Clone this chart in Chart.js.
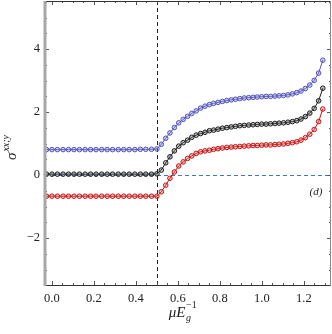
<!DOCTYPE html>
<html>
<head>
<meta charset="utf-8">
<script src="https://cdn.jsdelivr.net/npm/chart.js@4.4.1/dist/chart.umd.min.js"></script>
<style>
html,body{margin:0;padding:0;background:#fff;}
canvas{display:block;}
</style>
</head>
<body>
<canvas id="c" width="332" height="334"></canvas>
<script>
// x values (mu / E_g)
const muValues = [
 -0.026, 0.000, 0.026, 0.053, 0.079, 0.105, 0.131, 0.158, 0.184, 0.210,
  0.237, 0.263, 0.289, 0.316, 0.342, 0.368, 0.395, 0.421, 0.447, 0.474,
  0.500,
  0.521, 0.542, 0.562, 0.583, 0.604, 0.625, 0.646, 0.666, 0.687, 0.708,
  0.729, 0.750, 0.770, 0.791, 0.812, 0.833, 0.854, 0.874, 0.895, 0.916,
  0.937, 0.958, 0.978, 0.999, 1.020, 1.041, 1.062, 1.082, 1.103, 1.124,
  1.145, 1.166, 1.186, 1.207, 1.228, 1.249, 1.270, 1.290
];
const blueValues = [
  0.81, 0.81, 0.81, 0.81, 0.81, 0.81, 0.81, 0.81, 0.81, 0.81,
  0.81, 0.81, 0.81, 0.81, 0.81, 0.81, 0.81, 0.82, 0.82, 0.82,
  0.83,
  0.98, 1.17, 1.34, 1.51, 1.66, 1.77, 1.87, 1.96, 2.04, 2.13,
  2.19, 2.24, 2.28, 2.31, 2.34, 2.37, 2.39, 2.41, 2.43, 2.45,
  2.46, 2.47, 2.48, 2.49, 2.50, 2.50, 2.51, 2.52, 2.53, 2.55,
  2.58, 2.62, 2.67, 2.75, 2.86, 3.01, 3.24, 3.65
];
const blackValues = [
  0.03, 0.03, 0.03, 0.03, 0.03, 0.03, 0.03, 0.03, 0.03, 0.03,
  0.03, 0.03, 0.03, 0.03, 0.03, 0.03, 0.03, 0.03, 0.03, 0.03,
  0.04,
  0.16, 0.39, 0.58, 0.77, 0.92, 1.03, 1.11, 1.20, 1.27, 1.32,
  1.36, 1.41, 1.43, 1.46, 1.49, 1.51, 1.53, 1.55, 1.57, 1.58,
  1.59, 1.60, 1.61, 1.62, 1.62, 1.63, 1.64, 1.65, 1.66, 1.68,
  1.70, 1.73, 1.78, 1.86, 1.97, 2.12, 2.36, 2.76
];
const redValues = [
 -0.67, -0.67, -0.67, -0.67, -0.67, -0.67, -0.67, -0.67, -0.67, -0.67,
 -0.67, -0.67, -0.67, -0.67, -0.67, -0.67, -0.67, -0.67, -0.67, -0.67,
 -0.67,
 -0.53, -0.32, -0.10, 0.10, 0.29, 0.42, 0.53, 0.61, 0.69, 0.74,
  0.77, 0.79, 0.82, 0.84, 0.86, 0.88, 0.89, 0.90, 0.91, 0.92,
  0.93, 0.94, 0.94, 0.95, 0.96, 0.96, 0.97, 0.98, 0.99, 1.01,
  1.03, 1.06, 1.11, 1.19, 1.30, 1.45, 1.70, 2.10
];
const xTickValues = [0, 0.2, 0.4, 0.6, 0.8, 1.0, 1.2];
const yTickValues = [-2, 0, 2, 4];
const gapPosition = 0.5;

function pts(ys){ return muValues.map((x,i)=>({x:x, y:ys[i]})); }

const serif = '"Liberation Serif","DejaVu Serif",serif';

class TightLinear extends Chart.LinearScale {
  _calculatePadding(){
    this.paddingTop = 0; this.paddingBottom = 0;
    this.paddingLeft = 0; this.paddingRight = 0;
  }
}
TightLinear.id = 'tightLinear';
TightLinear.defaults = Chart.LinearScale.defaults;
Chart.register(TightLinear);

function mkSet(ys, line, fill){
  return {
    data: pts(ys), showLine:true, borderColor:line, borderWidth:1,
    pointRadius:2.3, pointBorderWidth:1, pointBorderColor:line,
    pointBackgroundColor:fill, tension:0, clip:false
  };
}

const decor = {
  id:'decor',
  beforeDatasetsDraw(chart){
    const c = chart.ctx, a = chart.chartArea;
    const xs = chart.scales.x, ys = chart.scales.y;
    c.save();
    c.strokeStyle = '#4d74c4'; c.lineWidth = 1; c.setLineDash([4,3]);
    const y0 = Math.round(ys.getPixelForValue(0)) + 0.5;
    c.beginPath(); c.moveTo(a.left, y0); c.lineTo(a.right, y0); c.stroke();
    c.strokeStyle = '#222'; c.setLineDash([4,3]);
    const xg = Math.round(xs.getPixelForValue(gapPosition)) + 0.5;
    c.beginPath(); c.moveTo(xg, a.top); c.lineTo(xg, a.bottom); c.stroke();
    c.restore();
  },
  afterDraw(chart){
    const c = chart.ctx, a = chart.chartArea;
    const xs = chart.scales.x, ys = chart.scales.y;
    c.save();
    c.setLineDash([]);
    c.strokeStyle = '#555'; c.lineWidth = 1;
    c.beginPath();
    for (let k = 0; k <= 26; k++) {
      const vv = k * 0.05;
      const major = (k % 4) === 0;
      const L = major ? 4 : 2;
      const px = Math.round(xs.getPixelForValue(vv)) + 0.5;
      c.moveTo(px, a.bottom); c.lineTo(px, a.bottom - L);
      c.moveTo(px, a.top); c.lineTo(px, a.top + L);
    }
    for (let k = -6; k <= 11; k++) {
      const v = k * 0.5;
      const major = (k % 4) === 0;
      const L = major ? 4 : 2;
      const py = Math.round(ys.getPixelForValue(v)) + 0.5;
      c.moveTo(a.left, py); c.lineTo(a.left + L, py);
      c.moveTo(a.right, py); c.lineTo(a.right - L, py);
    }
    c.stroke();
    c.strokeStyle = '#333'; c.lineWidth = 1;
    c.beginPath();
    c.moveTo(a.left, a.top + 0.5); c.lineTo(a.right, a.top + 0.5);
    c.moveTo(a.left, a.bottom + 0.5); c.lineTo(a.right, a.bottom + 0.5);
    c.stroke();
    c.strokeStyle = '#888';
    c.beginPath(); c.moveTo(a.right - 0.5, a.top); c.lineTo(a.right - 0.5, a.bottom + 1); c.stroke();
    c.strokeStyle = '#a8a8a8'; c.lineWidth = 3;
    c.beginPath(); c.moveTo(a.left, a.top); c.lineTo(a.left, a.bottom + 1); c.stroke();

    c.fillStyle = '#222';
    c.font = 'italic 11px ' + serif;
    c.textAlign = 'center'; c.textBaseline = 'alphabetic';
    c.fillText('(d)', 316, 195);

    c.textAlign = 'left';
    c.font = 'italic 15px ' + serif;
    const mainW = c.measureText('\u03bcE').width;
    c.font = '10px ' + serif;
    const supW = c.measureText('\u22121').width;
    const total = mainW + supW + 1;
    let x0 = 183 - total/2;
    c.font = 'italic 15px ' + serif;
    c.fillText('\u03bcE', x0, 317);
    c.font = 'italic 10px ' + serif;
    c.fillText('g', x0 + mainW + 0.5, 321);
    c.font = '10px ' + serif;
    c.fillText('\u22121', x0 + mainW + 0.5, 308);

    c.translate(16, 160);
    c.rotate(-Math.PI/2);
    c.font = 'italic 15px ' + serif;
    c.fillText('\u03c3', 0, 0);
    const sw = c.measureText('\u03c3').width;
    c.font = 'italic 10px ' + serif;
    c.fillText('xx;y', sw + 1, -7);
    c.restore();
  }
};

new Chart(document.getElementById('c').getContext('2d'), {
  type:'scatter',
  data:{ datasets:[
    mkSet(blueValues, '#5454b8', 'rgba(120,120,210,0.35)'),
    mkSet(blackValues, '#1c1c1c', 'rgba(90,90,90,0.35)'),
    mkSet(redValues, '#c41414', 'rgba(220,90,90,0.35)')
  ]},
  options:{
    responsive:false, animation:false, devicePixelRatio:1,
    layout:{autoPadding:false, padding:{top:1,right:1,left:0,bottom:0}},
    plugins:{legend:{display:false}, tooltip:{enabled:false}},
    scales:{
      x:{
        type:'tightLinear', position:'bottom', min:-0.033, max:1.329,
        afterBuildTicks:s=>{ s.ticks = xTickValues.map(v=>({value:v})); },
        afterFit:s=>{ s.height = 49; },
        grid:{display:false, drawTicks:false}, border:{display:false},
        ticks:{font:{family:serif,size:12.5}, color:'#222', padding:6,
               maxRotation:0, autoSkip:false,
               callback:v=>Number(v).toFixed(1)}
      },
      y:{
        type:'tightLinear', position:'left', min:-3.49, max:5.53,
        afterBuildTicks:s=>{ s.ticks = yTickValues.map(v=>({value:v})); },
        afterFit:s=>{ s.width = 45; },
        grid:{display:false, drawTicks:false}, border:{display:false},
        ticks:{font:{family:serif,size:12.5}, color:'#222', padding:5,
               autoSkip:false,
               callback:v=> (v<0 ? '\u2212' + Math.abs(v) : String(v))}
      }
    }
  },
  plugins:[decor]
});
</script>
</body>
</html>
